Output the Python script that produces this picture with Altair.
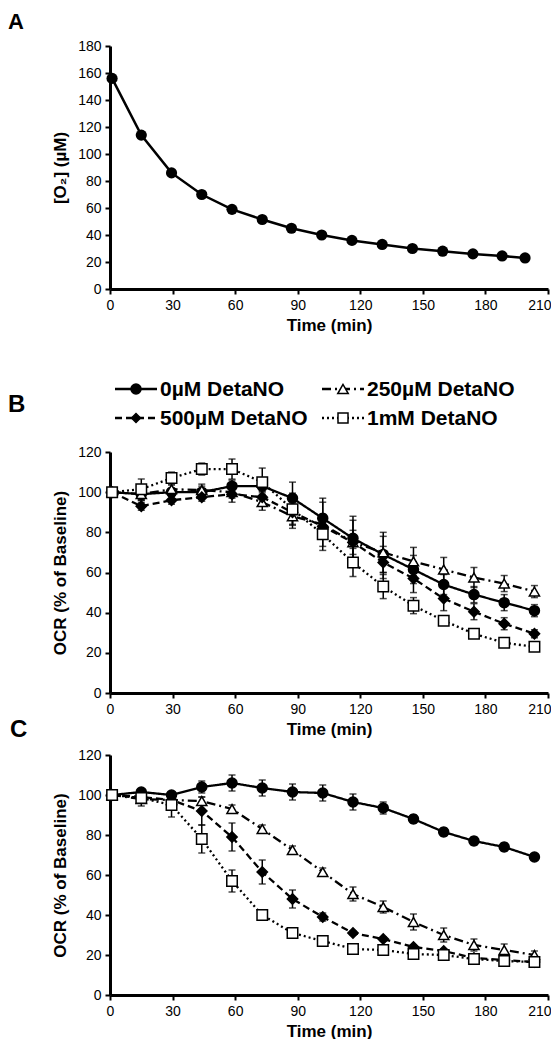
import altair as alt
import pandas as pd

FONT = "Liberation Sans"

# ---------------- data ----------------
time_a = [1, 15, 29.5, 44, 58.5, 73, 87, 101.5, 116, 130.5, 145, 159.5, 174, 188, 199]
o2_a = [156, 114, 86, 70, 59, 51.5, 45, 40, 36, 33, 30, 28, 26, 24.5, 23]

time_bc = [1, 15, 29.5, 44, 58.5, 73, 87.5, 102, 116.5, 131, 145.5, 160, 174.5, 189, 203.5]

series_names = ["0µM DetaNO", "250µM DetaNO", "500µM DetaNO", "1mM DetaNO"]

b_0 = [100, 99, 100, 100, 103, 103, 97, 87, 77, 69, 61.5, 54, 49, 45, 41]
b_250 = [100, 99, 101.5, 101, 100, 95, 88, 84, 75, 70, 65.5, 61.5, 57.5, 54.5, 50.5]
b_500 = [100, 93, 96, 97.5, 99, 97.5, 90, 83, 75, 65, 57, 47, 40.5, 34.5, 29.5]
b_1m = [100, 101.5, 107, 111.5, 111.5, 105, 91.5, 79, 65, 53, 43.5, 36, 29.5, 25, 23]
b_0_err = [0, 3, 2, 3, 3, 3, 8, 10, 11, 9, 7, 5, 4, 4, 3]
b_250_err = [0, 3, 2, 3, 3, 4, 6, 11, 11, 10, 7, 6, 5, 4, 3]
b_500_err = [0, 2, 2, 2, 4, 3, 6, 6, 6, 8, 7, 6, 4, 3, 2]
b_1m_err = [0, 5, 3, 3, 5, 7, 8, 8, 7, 6, 4, 2, 2, 2, 2]

c_0 = [100, 101.5, 100, 104, 106, 103.5, 101.5, 101, 96.5, 93.5, 88, 81.5, 77, 74, 69]
c_250 = [100, 98, 97.5, 97, 93, 83, 72.5, 61.5, 50.5, 44, 36.5, 30, 25, 22.5, 20]
c_500 = [100, 99, 97.5, 92, 79, 61.5, 48, 39, 31, 28, 24, 22, 18.5, 17.5, 16.5]
c_1m = [100, 98.5, 95, 78, 57, 40, 31, 27, 23, 22.5, 20.5, 20, 18, 17, 16.5]
c_0_err = [0, 1, 1, 3, 4, 4, 4, 4, 4, 3, 2, 2, 2, 2, 1.5]
c_250_err = [0, 2, 2, 2, 2, 2, 2, 2, 3.5, 3, 4, 3.5, 3, 3, 2]
c_500_err = [0, 2, 2, 7, 7, 6, 4.5, 2, 1, 1, 1, 1, 1, 1, 1]
c_1m_err = [0, 4, 6, 7, 5.5, 2.5, 1.5, 1, 1, 1, 1, 1, 1, 1, 1]

x_ticks = [0, 30, 60, 90, 120, 150, 180, 210]
y_ticks_a = [0, 20, 40, 60, 80, 100, 120, 140, 160, 180]
y_ticks_bc = [0, 20, 40, 60, 80, 100, 120]

# style tables (not data)
dash_range = [[1, 0], [9, 4, 2, 4], [7, 4], [2, 3]]
shape_range = ["circle", "triangle-up", "diamond", "square"]
fill_range = ["black", "white", "black", "white"]
size_range = [100, 110, 80, 100]

W = 438
OCR_TITLE = "OCR (% of Baseline)"


def long_frame(vals, errs):
    rows = []
    for name, v, e in zip(series_names, vals, errs):
        for t, y, er in zip(time_bc, v, e):
            rows.append({"time": t, "val": y, "lo": y - er, "hi": y + er,
                         "err": er, "series": name})
    return pd.DataFrame(rows)


def xaxis():
    return alt.X("time:Q", title="Time (min)",
                 scale=alt.Scale(domain=[0, 210], nice=False),
                 axis=alt.Axis(values=x_ticks, titlePadding=5, labelOverlap=False,
                               labelFlush=False,
                               labelAlign={"condition": {"test": "datum.value >= 210", "value": "right"},
                                           "value": "center"},
                               labelOffset={"condition": {"test": "datum.value >= 210", "value": 3},
                                            "value": 0}))


def yaxis(field, title, top, ticks):
    return alt.Y(field, title=title, scale=alt.Scale(domain=[0, top], nice=False),
                 axis=alt.Axis(values=ticks, tickCount=len(ticks), titlePadding=8,
                               labelOverlap=False, labelFlush=False))


def panel_label(letter, dx, dy, fs=24):
    return alt.Chart(pd.DataFrame({"t": [letter]})).mark_text(
        font=FONT, fontSize=fs, fontWeight="bold", align="left", baseline="middle",
        color="black").encode(x=alt.value(dx), y=alt.value(dy), text="t:N")


def ocr_panel(vals, errs, height):
    df = long_frame(vals, errs)
    enc_common = dict(
        x=xaxis(),
        y=yaxis("val:Q", OCR_TITLE, 120, y_ticks_bc),
    )
    dash = alt.StrokeDash("series:N", scale=alt.Scale(domain=series_names, range=dash_range), legend=None)
    lines = alt.Chart(df).mark_line(color="black", strokeWidth=2.3).encode(
        **enc_common, strokeDash=dash, detail="series:N")
    dfe = df[df["err"] > 0]
    ebar = alt.Chart(dfe).mark_rule(color="black", strokeWidth=1.5).encode(
        x=xaxis(), y=yaxis("lo:Q", OCR_TITLE, 120, y_ticks_bc), y2="hi:Q")
    cap_hi = alt.Chart(dfe).mark_tick(color="black", orient="horizontal", size=7, thickness=1.5).encode(
        x=xaxis(), y=yaxis("hi:Q", OCR_TITLE, 120, y_ticks_bc))
    cap_lo = alt.Chart(dfe).mark_tick(color="black", orient="horizontal", size=7, thickness=1.5).encode(
        x=xaxis(), y=yaxis("lo:Q", OCR_TITLE, 120, y_ticks_bc))
    pts = alt.Chart(df).mark_point(filled=True, stroke="black", strokeWidth=1.5, opacity=1).encode(
        **enc_common,
        shape=alt.Shape("series:N", scale=alt.Scale(domain=series_names, range=shape_range), legend=None),
        fill=alt.Fill("series:N", scale=alt.Scale(domain=series_names, range=fill_range), legend=None),
        size=alt.Size("series:N", scale=alt.Scale(domain=series_names, range=size_range), legend=None),
    )
    return alt.layer(lines, ebar, cap_hi, cap_lo, pts).properties(width=W, height=height)


# ---------------- panel A ----------------
dfa = pd.DataFrame({"time": time_a, "o2": o2_a})
enc_a = dict(
    x=xaxis(),
    y=yaxis("o2:Q", "[O₂] (µM)", 180, y_ticks_a),
)
line_a = alt.Chart(dfa).mark_line(color="black", strokeWidth=2.5).encode(**enc_a)
pts_a = alt.Chart(dfa).mark_point(filled=True, shape="circle", size=125, color="black", opacity=1).encode(**enc_a)
panel_a = alt.layer(line_a, pts_a, panel_label("A", -102, -24, 22)).properties(width=W, height=243)

# spacer
spacer = alt.Chart(pd.DataFrame({"v": [0]})).mark_point(opacity=0).encode(
    x=alt.X("v:Q", axis=None), y=alt.Y("v:Q", axis=None)).properties(width=W, height=39)

# ---------------- legend (panel B) ----------------
legend_layers = []
leg_pos = [(5, -63), (212, -63), (5, -34), (212, -34)]
for i, name in enumerate(series_names):
    lx, ly = leg_pos[i]
    one = pd.DataFrame({"label": [name]})
    legend_layers.append(alt.Chart(one).mark_rule(color="black", strokeWidth=2.5, strokeDash=dash_range[i]).encode(
        x=alt.value(lx), x2=alt.value(lx + 42), y=alt.value(ly)))
    legend_layers.append(alt.Chart(one).mark_point(
        filled=True, shape=shape_range[i], fill=fill_range[i], stroke="black", strokeWidth=1.5,
        size=size_range[i], opacity=1).encode(x=alt.value(lx + 21), y=alt.value(ly)))
    legend_layers.append(alt.Chart(one).mark_text(
        font=FONT, fontSize=21, fontWeight="bold", align="left", baseline="middle", color="black").encode(
        x=alt.value(lx + 45), y=alt.value(ly + 1), text="label:N"))

panel_b = alt.layer(
    ocr_panel([b_0, b_250, b_500, b_1m], [b_0_err, b_250_err, b_500_err, b_1m_err], 241),
    *legend_layers,
    panel_label("B", -102, -47),
)

panel_c = alt.layer(
    ocr_panel([c_0, c_250, c_500, c_1m], [c_0_err, c_250_err, c_500_err, c_1m_err], 240),
    panel_label("C", -100, -25),
)

chart = alt.vconcat(panel_a, spacer, panel_b, panel_c, spacing=62, bounds="flush").properties(
    padding={"left": 0, "top": 3, "right": 0, "bottom": 0}
).configure_view(stroke=None).configure_axis(
    domainColor="black", domainWidth=3, tickColor="black", tickWidth=2, tickSize=5,
    labelFont=FONT, labelFontSize=14, labelColor="black", labelPadding=4,
    labelFlush=False, labelOverlap=False,
    titleFont=FONT, titleFontSize=17, titleFontWeight="bold", titleColor="black",
    grid=False,
)

chart.save("out.html", embed_options={"renderer": "svg", "actions": False})
